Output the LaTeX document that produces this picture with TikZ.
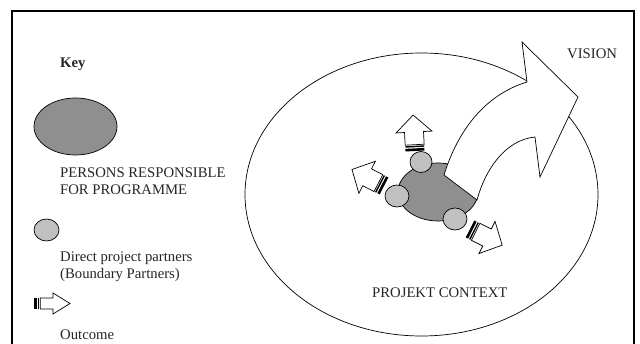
\documentclass[tikz,border=0pt]{standalone}
\usepackage{fontspec}
\setmainfont{Liberation Serif}
\definecolor{blobgray}{HTML}{8F8F8F}
\definecolor{partnergray}{HTML}{C0C0C0}
\newcommand\outcomearrow[6]{%
  \begin{scope}[shift={(#1,#2)},rotate=#3]
    \fill[black] (0,-#6) rectangle (2.6,#6);
    \fill[black] (3.8,-#6) rectangle (5.2,#6);
    \draw[shapeline,fill=white] (6.3,-#6) -- ({#4-17},-#6) -- ({#4-17},-#5) -- (#4,0) -- ({#4-17},#5) -- ({#4-17},#6) -- (6.3,#6) -- cycle;
  \end{scope}}
\begin{document}
\begin{tikzpicture}[x=1pt,y=-1pt,
  shapeline/.style={draw=black,line width=0.7pt},
  txt/.style={font=\fontsize{14.7}{17}\selectfont,anchor=base west,inner sep=0pt,text=black!85}]
\useasboundingbox (0,0) rectangle (640,344);
\fill[white] (0,0) rectangle (640,344);
% frame
\draw[line width=1.1pt] (12,344) -- (12,11) -- (634,11) -- (634,344);
% key
\node[txt,font=\fontsize{14.7}{17}\selectfont\bfseries] (key) at (60,68) {Key};
\draw[shapeline,fill=blobgray] (75.5,126.5) ellipse [x radius=41.5,y radius=28.5];
\node[txt] (persons) at (60,178) {PERSONS RESPONSIBLE};
\node[txt] (forprog) at (60,195) {FOR PROGRAMME};
\draw[shapeline,fill=partnergray] (46.5,230) ellipse [x radius=12.5,y radius=11];
\node[txt] (direct) at (60,262) {Direct project partners};
\node[txt] (boundary) at (60,279) {(Boundary Partners)};
\outcomearrow{34}{303.5}{0}{36}{10.5}{5.5}
\node[txt] (outcome) at (60,340) {Outcome};
% context
\draw[shapeline,fill=white] (421.5,194.5) ellipse [x radius=176.5,y radius=141.5];
\draw[shapeline,fill=blobgray] (438,192) ellipse [x radius=40,y radius=29];
\draw[shapeline,fill=white] (444,175) .. controls (458,130) and (485,95) .. (527,82)
  -- (522,42) -- (578,97) -- (540,177) -- (535,137)
  .. controls (505,140) and (485,170) .. (477,200) -- cycle;
\draw[shapeline,fill=partnergray] (421,162) ellipse [x radius=11,y radius=10.5];
\draw[shapeline,fill=partnergray] (397,196) ellipse [x radius=12,y radius=11];
\draw[shapeline,fill=partnergray] (455,219) ellipse [x radius=12,y radius=11];
\outcomearrow{415}{151}{93}{36}{18}{9.5}
\outcomearrow{384}{186}{152.7}{36}{18}{9.5}
\outcomearrow{470}{229}{-26.6}{36}{18}{9.5}
\node[txt] (vision) at (567,59) {VISION};
\node[txt] (context) at (372,298) {PROJEKT CONTEXT};
\end{tikzpicture}
\end{document}
